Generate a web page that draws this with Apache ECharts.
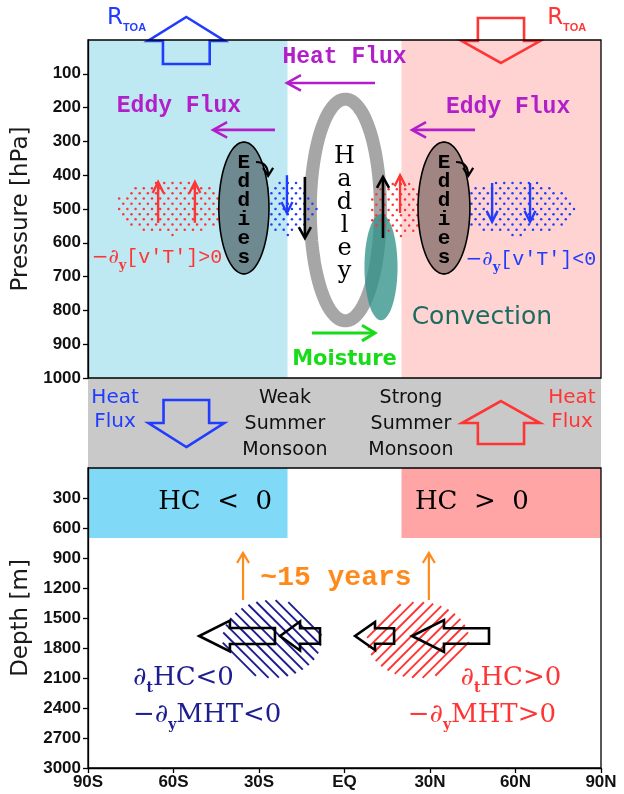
<!DOCTYPE html>
<html><head><meta charset="utf-8">
<script src="https://cdn.jsdelivr.net/npm/echarts@6/dist/echarts.min.js"></script>
<style>html,body{margin:0;padding:0;background:#fff}#c{width:624px;height:794px}</style>
</head><body><div id="c"></div>
<script>
// ---------- axes / ticks ----------
const latTicks = ['90S','60S','30S','EQ','30N','60N','90N'];
const pressureTicks = [100,200,300,400,500,600,700,800,900,1000];
const depthTicks = [300,600,900,1200,1500,1800,2100,2400,2700,3000];

// ---------- upper panel: [lat, pressure(hPa)] ----------
const atmosShading = [[-90,-20,0,1000,'weak'],[20,90,0,1000,'strong']];
const circulationShapes = [[0.3,503,12.3,328,'hadley'],[12.8,672,5.8,157,'convection']];
const stippleAreas = [[-60.5,497,20,80,'red'],[-20.5,497,10.9,80,'blue'],[19.5,500,11.2,80,'red'],[60.2,497,21.4,80,'blue']];
const eddyShapes = [[-35.3,497,8.8,195,'eddyS'],[34.9,497,9.1,195,'eddyN']];
const atmosArrows = [
  [10.7,127,-20.2,127,'mag'],[-24.4,266,-46.1,266,'mag'],[45.8,266,23.7,266,'mag'],
  [-13.9,405,-13.9,586,'blk'],[13.5,586,13.5,405,'blk'],
  [-65.4,541,-65.4,420,'red'],[-52.5,541,-52.5,420,'red'],[-20.2,400,-20.2,512,'blue'],
  [19.5,512,19.5,400,'red'],[51.8,423,51.8,538,'blue'],[65.1,423,65.1,538,'blue'],
  [-11.4,867,10.7,867,'grn']
];
const eddyCurls = [[-31.05,361,-26.8,361,-26.8,402],[39.15,361,43.4,361,43.4,402]];
const radiationArrows = [[-55.5,-68,-55.5,71,3,13.5,8.2,'blue'],[54.9,68,54.9,-65,3,13.7,8.1,'red']];
const atmosLabels = [
  [-83.3,-60,'rtoaB','{r|R}{s|TOA}'],[71.1,-60,'rtoaR','{r|R}{s|TOA}'],
  [0,50,'flux','Heat Flux'],[-58.1,195,'flux','Eddy Flux'],[57.4,198,'flux','Eddy Flux'],
  [-35.3,503,'eddies','E\nd\nd\ni\ne\ns'],[34.9,503,'eddies','E\nd\nd\ni\ne\ns'],
  [0,515,'hadley','H\na\nd\nl\ne\ny'],
  [-65.8,651,'dvtR','{m|\u2212\u2202}{s|y}{c|[v\'T\']>0}'],[65.4,657,'dvtB','{m|\u2212\u2202}{s|y}{c|[v\'T\']<0}'],
  [48.2,820,'conv','Convection'],[0,944,'moist','Moisture']
];

// ---------- middle band: [lat, band position 0..100] ----------
const surfaceArrows = [[-55.5,76.7,-55.5,24.4,50,13.3,8,'blue'],[54.9,25.6,54.9,73.3,50,13.7,8.1,'red']];
const bandLabels = [
  [-80.5,35.6,'heatB','Heat\nFlux'],[79.8,35.6,'heatR','Heat\nFlux'],
  [-20.9,51,'mons','Weak\nSummer\nMonsoon'],[23.3,51,'mons','Strong\nSummer\nMonsoon']
];

// ---------- lower panel: [lat, depth(m)] ----------
const hcBoxes = [[-90,-20,0,700,'hcNeg'],[20,90,0,700,'hcPos']];
const hatchAreas = [[-25.4,1710,17.4,390,1,'navy'],[25.8,1720,17.9,380,-1,'red']];
const lagArrows = [[-35.6,1320,-35.6,850,'org'],[29.6,1320,29.6,850,'org']];
const transportArrows = [
  [-51,1680,-24.4,1680,-40.2,155,80,'blk'],[-22.6,1680,-8.6,1680,-15.6,145,78,'blk'],
  [3.7,1680,17.4,1680,10.7,140,78,'blk'],[23.7,1680,50.7,1680,34.9,160,78,'blk']
];
const oceanLabels = [
  [-45.4,340,'hc','HC  <  0'],[44.7,340,'hc','HC  >  0'],[-3,1100,'lag','~15 years'],
  [-56.5,2120,'dtB','{m|\u2202}{s|t}{m|HC<0}'],[-48.2,2490,'dtB','{m|\u2212\u2202}{s|y}{m|MHT<0}'],
  [58.4,2120,'dtR','{m|\u2202}{s|t}{m|HC>0}'],[48.2,2490,'dtR','{m|\u2212\u2202}{s|y}{m|MHT>0}']
];

// ---------- styles ----------
const SANS = "'DejaVu Sans', sans-serif";
const MONO = "'Liberation Mono','DejaVu Sans Mono',monospace";
const SERIF = "'DejaVu Serif',serif";
const TICKF = "'Liberation Sans',Arial,sans-serif";
const COL = {blue:'#1f3cff', red:'#ff3535', mag:'#b21ec9', blk:'#000', grn:'#19dc19', org:'#ff8a1c', navy:'#1d1d92', teal:'#1b6b60'};
const FILL = {weak:'#bee8f2', strong:'#ffd3d1', hcNeg:'#80d9f7', hcPos:'#ffa5a5'};
const ELL = {
  hadley:{fill:'none', stroke:'#a6a6a6', lineWidth:13},
  convection:{fill:'rgba(50,148,138,0.78)', stroke:'none'},
  eddyS:{fill:'#6f8991', stroke:'#000', lineWidth:1.6},
  eddyN:{fill:'#a18583', stroke:'#000', lineWidth:1.6}
};
const ARW = {mag:{c:COL.mag,w:2.6,h:14,k:0.55}, blk:{c:'#000',w:2.6,h:11,k:0.55}, red:{c:COL.red,w:2.4,h:11,k:0.5},
  blue:{c:COL.blue,w:2.4,h:11,k:0.5}, grn:{c:COL.grn,w:3,h:13,k:0.6}, org:{c:COL.org,w:2.2,h:10,k:0.6}};
function rtoa(c){ return {align:'left', rich:{r:{fill:c,fontSize:23,fontFamily:SANS,padding:[0,0,4,0]}, s:{fill:c,fontSize:11,fontFamily:TICKF,fontWeight:'bold',verticalAlign:'bottom'}}}; }
function deriv(c, mono){ return {rich:{m:{fill:c,fontSize:mono?20:26,fontFamily:SERIF,padding:[0,0,4,0]}, s:{fill:c,fontSize:mono?13:14,fontFamily:SERIF,fontWeight:'bold',verticalAlign:'bottom'}, c:{fill:c,fontSize:20,fontFamily:MONO,padding:[0,0,4,0]}}}; }
const TXT = {
  rtoaB: rtoa(COL.blue), rtoaR: rtoa(COL.red),
  flux:{fill:COL.mag,fontSize:23,fontFamily:MONO,fontWeight:'bold'},
  eddies:{fill:'#000',fontSize:21,fontFamily:MONO,fontWeight:'bold',lineHeight:19},
  hadley:{fill:'#000',fontSize:24,fontFamily:SERIF,lineHeight:23},
  dvtR: deriv(COL.red,true), dvtB: deriv(COL.blue,true),
  conv:{fill:COL.teal,fontSize:25,fontFamily:SANS},
  moist:{fill:COL.grn,fontSize:21,fontFamily:SANS,fontWeight:'bold'},
  heatB:{fill:COL.blue,fontSize:20,fontFamily:SANS,lineHeight:24},
  heatR:{fill:COL.red,fontSize:20,fontFamily:SANS,lineHeight:24},
  mons:{fill:'#111',fontSize:19,fontFamily:SANS,lineHeight:26},
  hc:{fill:'#000',fontSize:26,fontFamily:SERIF},
  lag:{fill:COL.org,fontSize:28,fontFamily:MONO,fontWeight:'bold'},
  dtB: deriv(COL.navy,false), dtR: deriv(COL.red,false)
};

// ---------- renderers (all positions through api.coord / api.size) ----------
function head(q, ux, uy, h, w){ return [[q[0]-ux*h-uy*w, q[1]-uy*h+ux*w],[q[0],q[1]],[q[0]-ux*h+uy*w, q[1]-uy*h-ux*w]]; }
const R = {
  rect(d, api){ const a=api.coord([d[0],d[2]]), b=api.coord([d[1],d[3]]);
    return {type:'rect', shape:{x:Math.min(a[0],b[0]), y:Math.min(a[1],b[1]), width:Math.abs(b[0]-a[0]), height:Math.abs(b[1]-a[1])}, style:{fill:FILL[d[4]]}}; },
  ellipse(d, api){ const c=api.coord([d[0],d[1]]), s=api.size([d[2]*2,d[3]*2],[d[0],d[1]]); const pts=[];
    for(let k=0;k<90;k++){ const t=k/90*2*Math.PI; pts.push([c[0]+s[0]/2*Math.cos(t), c[1]+s[1]/2*Math.sin(t)]); }
    return {type:'polygon', shape:{points:pts}, style:ELL[d[4]]}; },
  stipple(d, api){ const c=api.coord([d[0],d[1]]), s=api.size([d[2]*2,d[3]*2],[d[0],d[1]]); const a=s[0]/2, b=s[1]/2; const kids=[]; const sx=8.2, sy=5.2; let row=0;
    for(let y=-b+2; y<=b; y+=sy, row++){ const off=(row%2)*sx/2; for(let x=-a-sx+off; x<=a; x+=sx){ if((x*x)/(a*a)+(y*y)/(b*b)<=1) kids.push({type:'circle', shape:{cx:c[0]+x, cy:c[1]+y, r:1.25}, style:{fill:COL[d[4]]}}); } }
    return {type:'group', children:kids}; },
  hatch(d, api){ const c=api.coord([d[0],d[1]]), s=api.size([d[2]*2,d[3]*2],[d[0],d[1]]); const a=s[0]/2, b=s[1]/2; const dx=Math.SQRT1_2, dy=d[4]*Math.SQRT1_2; const nx=-dy, ny=dx; const sp=7.5; const kids=[];
    const A=dx*dx/(a*a)+dy*dy/(b*b);
    for(let k=-25;k<=25;k++){ const X0=nx*k*sp, Y0=ny*k*sp; const B=2*(X0*dx/(a*a)+Y0*dy/(b*b)); const C=X0*X0/(a*a)+Y0*Y0/(b*b)-1; const disc=B*B-4*A*C; if(disc<=0) continue; const r=Math.sqrt(disc); const t1=(-B-r)/(2*A), t2=(-B+r)/(2*A);
      kids.push({type:'line', shape:{x1:c[0]+X0+t1*dx, y1:c[1]+Y0+t1*dy, x2:c[0]+X0+t2*dx, y2:c[1]+Y0+t2*dy}, style:{stroke:COL[d[5]], lineWidth:1.9}}); }
    return {type:'group', children:kids}; },
  arrow(d, api){ const p=api.coord([d[0],d[1]]), q=api.coord([d[2],d[3]]); const st=ARW[d[4]]; const L=Math.hypot(q[0]-p[0],q[1]-p[1]); const ux=(q[0]-p[0])/L, uy=(q[1]-p[1])/L;
    return {type:'group', children:[
      {type:'line', shape:{x1:p[0],y1:p[1],x2:q[0]-ux*1.5,y2:q[1]-uy*1.5}, style:{stroke:st.c, lineWidth:st.w}},
      {type:'polyline', shape:{points:head(q,ux,uy,st.h,st.h*st.k)}, style:{stroke:st.c, lineWidth:st.w, fill:'none', lineJoin:'miter'}}]}; },
  curl(d, api){ const p=api.coord([d[0],d[1]]), c=api.coord([d[2],d[3]]), q=api.coord([d[4],d[5]]); const L=Math.hypot(q[0]-c[0],q[1]-c[1]); const ux=(q[0]-c[0])/L, uy=(q[1]-c[1])/L;
    return {type:'group', children:[
      {type:'bezierCurve', shape:{x1:p[0],y1:p[1],x2:q[0],y2:q[1],cpx1:c[0],cpy1:c[1]}, style:{stroke:'#000', lineWidth:2.2, fill:'none'}},
      {type:'polyline', shape:{points:head(q,ux,uy,8,5)}, style:{stroke:'#000', lineWidth:2.2, fill:'none'}}]}; },
  block(d, api){ const [tx,ty,bx,by,hb,hh,sh,ck]=d; let pts;
    if(tx===bx) pts=[[tx,ty],[tx+hh,hb],[tx+sh,hb],[tx+sh,by],[tx-sh,by],[tx-sh,hb],[tx-hh,hb]];
    else pts=[[tx,ty],[hb,ty+hh],[hb,ty+sh],[bx,ty+sh],[bx,ty-sh],[hb,ty-sh],[hb,ty-hh]];
    return {type:'polygon', shape:{points:pts.map(p=>api.coord(p))}, style:{fill:'none', stroke:COL[ck], lineWidth:2.6, lineJoin:'miter'}}; },
  text(d, api){ const p=api.coord([d[0],d[1]]);
    return {type:'text', style:Object.assign({x:p[0], y:p[1], text:d[3], align:'center', verticalAlign:'middle'}, TXT[d[2]])}; }
};
function mk(kind, list, ax, z){
  return {type:'custom', xAxisIndex:ax, yAxisIndex:ax, z:z, silent:true, animation:false, clip:false,
    data:list.map(d=>[d[0],d[1]]), renderItem:(params, api)=>R[kind](list[params.dataIndex], api)};
}

const tickLbl = {fontSize:17, fontWeight:'bold', fontFamily:TICKF, color:'#111', margin:7};
const nameStyle = {fontSize:23, fontFamily:SANS, color:'#1a1a1a'};
const frame = {show:true, borderColor:'#000', borderWidth:1.3, backgroundColor:'rgba(0,0,0,0)', z:20};
const axLine = {show:true, onZero:false, lineStyle:{color:'#000', width:1.3}};
function ticks(vals){ return {show:true, length:5, customValues:vals, lineStyle:{color:'#000', width:1.3}}; }
const option = {
  animation:false,
  grid:[
    Object.assign({left:88, top:40, width:513, height:338, outerBoundsMode:'none'}, frame),
    {left:88, top:378, width:513, height:90, show:true, backgroundColor:'#c9c9c9', borderWidth:0, outerBoundsMode:'none'},
    Object.assign({left:88, top:468, width:513, height:300, outerBoundsMode:'none'}, frame)
  ],
  xAxis:[
    {gridIndex:0, type:'value', min:-90, max:90, interval:30, show:false, axisLine:{onZero:false}},
    {gridIndex:1, type:'value', min:-90, max:90, interval:30, show:false, axisLine:{onZero:false}},
    {gridIndex:2, type:'value', min:-90, max:90, interval:30, z:20,
      axisLine:axLine,
      axisTick:{show:true, length:5, lineStyle:{color:'#000', width:1.3}},
      splitLine:{show:false}, showMinLabel:true, showMaxLabel:true,
      axisLabel:Object.assign({formatter:v=>latTicks[Math.round((v+90)/30)]}, tickLbl, {margin:6})}
  ],
  yAxis:[
    {gridIndex:0, type:'value', min:0, max:1000, interval:100, inverse:true, z:20,
      name:'Pressure [hPa]', nameLocation:'middle', nameGap:49, nameRotate:90, nameTextStyle:nameStyle,
      axisLine:axLine, axisTick:ticks(pressureTicks), splitLine:{show:false},
      axisLabel:Object.assign({customValues:pressureTicks, formatter:v=>String(v)}, tickLbl)},
    {gridIndex:1, type:'value', min:0, max:100, inverse:true, show:false, axisLine:{onZero:false}},
    {gridIndex:2, type:'value', min:0, max:3000, interval:300, inverse:true, z:20,
      name:'Depth [m]', nameLocation:'middle', nameGap:49, nameRotate:90, nameTextStyle:nameStyle,
      axisLine:axLine, axisTick:ticks(depthTicks), splitLine:{show:false},
      axisLabel:Object.assign({customValues:depthTicks, formatter:v=>String(v)}, tickLbl)}
  ],
  series:[
    mk('rect', atmosShading, 0, 1), mk('ellipse', circulationShapes, 0, 2), mk('stipple', stippleAreas, 0, 3), mk('ellipse', eddyShapes, 0, 4),
    mk('arrow', atmosArrows, 0, 5), mk('curl', eddyCurls, 0, 5), mk('block', radiationArrows, 0, 5), mk('text', atmosLabels, 0, 6),
    mk('block', surfaceArrows, 1, 4), mk('text', bandLabels, 1, 5),
    mk('rect', hcBoxes, 2, 1), mk('hatch', hatchAreas, 2, 2), mk('arrow', lagArrows, 2, 3), mk('block', transportArrows, 2, 4), mk('text', oceanLabels, 2, 5)
  ]
};
const chart = echarts.init(document.getElementById('c'), null, {renderer:'canvas'});
chart.setOption(option);
</script></body></html>
